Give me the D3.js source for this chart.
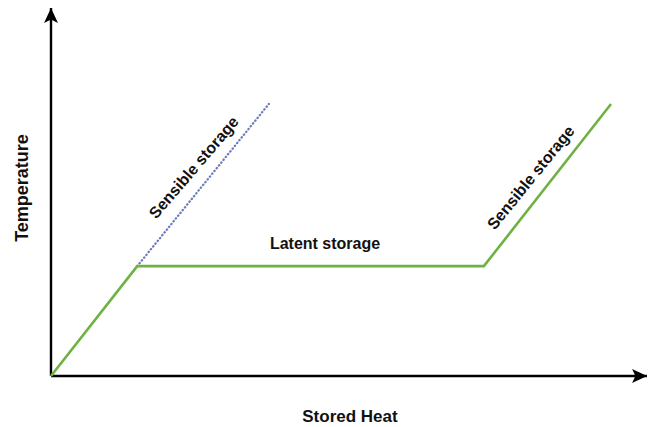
<!DOCTYPE html>
<html>
<head>
<meta charset="utf-8">
<script src="https://cdn.jsdelivr.net/npm/d3@7"></script>
<style>
  body { margin: 0; background: #fff; }
  text { font-family: "Liberation Sans", Arial, sans-serif; font-weight: bold; fill: #111; }
</style>
</head>
<body>
<div id="chart"></div>
<script>
// Heat stored vs temperature (schematic, arbitrary units)
const heatPoints = [0, 15.4, 77.3, 100];
const tempPoints = [0, 40.4, 40.4, 100];
const sensibleOnlyHeat = [15.4, 38.9];
const sensibleOnlyTemp = [40.4, 100];
const axisLabels = ["Stored Heat", "Temperature"];
const phaseLabels = ["Sensible storage", "Latent storage", "Sensible storage"];

const W = 648, H = 427;
const x0 = 51, y0 = 376;

const svg = d3.select("#chart").append("svg")
    .attr("width", W)
    .attr("height", H);

const x = d3.scaleLinear().domain([0, 100]).range([x0, 611]);
const y = d3.scaleLinear().domain([0, 100]).range([y0, 104]);

// Arrow head (tip sits on the line end)
svg.append("defs").append("marker")
    .attr("id", "arrow")
    .attr("viewBox", "0 0 10 10")
    .attr("refX", 10)
    .attr("refY", 5)
    .attr("markerWidth", 6.2)
    .attr("markerHeight", 5.8)
    .attr("preserveAspectRatio", "none")
    .attr("markerUnits", "strokeWidth")
    .attr("orient", "auto")
    .append("path")
    .attr("d", "M0,0 L10,5 L0,10 L2.2,5 Z")
    .attr("fill", "#000");

// Axes
svg.append("line")
    .attr("x1", x0).attr("y1", y0)
    .attr("x2", 647).attr("y2", y0)
    .attr("stroke", "#000")
    .attr("stroke-width", 2.4)
    .attr("marker-end", "url(#arrow)");

svg.append("line")
    .attr("x1", x0).attr("y1", y0)
    .attr("x2", x0).attr("y2", 8)
    .attr("stroke", "#000")
    .attr("stroke-width", 2.4)
    .attr("marker-end", "url(#arrow)");

// Dotted sensible-only line
const line = d3.line()
    .x(d => x(d[0]))
    .y(d => y(d[1]));

svg.append("path")
    .datum(d3.zip(sensibleOnlyHeat, sensibleOnlyTemp))
    .attr("d", line)
    .attr("fill", "none")
    .attr("stroke", "#6d7bbd")
    .attr("stroke-width", 2.3)
    .attr("stroke-dasharray", "0.4,3.2")
    .attr("stroke-linecap", "round");

// Green curve
svg.append("path")
    .datum(d3.zip(heatPoints, tempPoints))
    .attr("d", line)
    .attr("fill", "none")
    .attr("stroke", "#6fb243")
    .attr("stroke-width", 2.6)
    .attr("stroke-linejoin", "miter");

// Axis labels
svg.append("text")
    .attr("x", 350)
    .attr("y", 422)
    .attr("text-anchor", "middle")
    .style("font-size", "17px")
    .text(axisLabels[0]);

svg.append("text")
    .attr("transform", "translate(28,188) rotate(-90)")
    .attr("text-anchor", "middle")
    .style("font-size", "18px")
    .text(axisLabels[1]);

// Phase labels
const ang1 = Math.atan2(y(sensibleOnlyTemp[0]) - y(sensibleOnlyTemp[1]), x(sensibleOnlyHeat[1]) - x(sensibleOnlyHeat[0])) * 180 / Math.PI;
svg.append("text")
    .attr("transform", `translate(198,171) rotate(${-ang1 + 1.5})`)
    .attr("text-anchor", "middle")
    .style("font-size", "16px")
    .text(phaseLabels[0]);

svg.append("text")
    .attr("x", 325)
    .attr("y", 249)
    .attr("text-anchor", "middle")
    .style("font-size", "16px")
    .text(phaseLabels[1]);

const ang2 = Math.atan2(y(tempPoints[2]) - y(tempPoints[3]), x(heatPoints[3]) - x(heatPoints[2])) * 180 / Math.PI;
svg.append("text")
    .attr("transform", `translate(535,181) rotate(${-ang2 + 1})`)
    .attr("text-anchor", "middle")
    .style("font-size", "16px")
    .text(phaseLabels[2]);
</script>
</body>
</html>
